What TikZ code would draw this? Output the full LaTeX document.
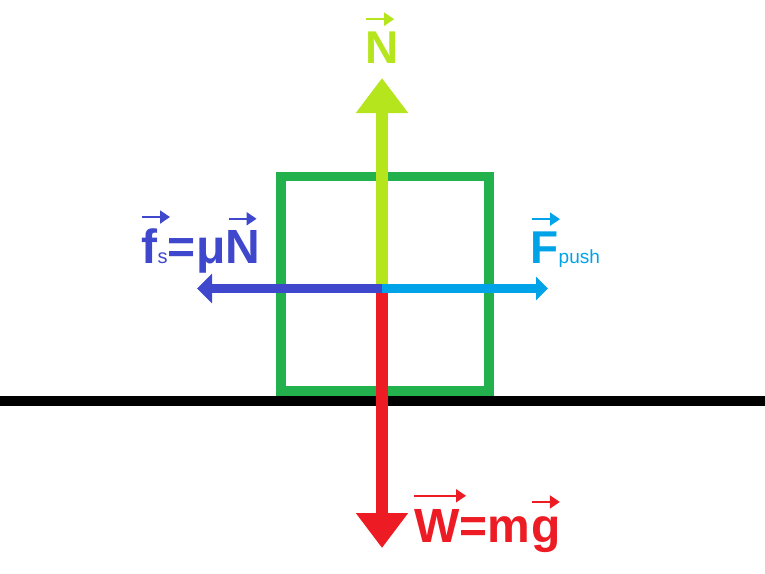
\documentclass[tikz,border=0pt]{standalone}
\usepackage{fontspec}
\setmainfont{Liberation Sans}
\usetikzlibrary{arrows.meta, positioning}

\definecolor{boxgreen}{RGB}{34,177,76}
\definecolor{normalclr}{RGB}{181,230,29}
\definecolor{fricclr}{RGB}{63,72,204}
\definecolor{pushclr}{RGB}{0,162,232}
\definecolor{weightclr}{RGB}{237,28,36}

\tikzset{
  lbl/.style={inner sep=0pt, font=\fontsize{#1}{#1}\selectfont\bfseries},
  lbl/.default=46,
  sublbl/.style={inner sep=0pt, font=\fontsize{#1}{#1}\selectfont},
  vecarrow/.style={line width=2pt, -{Triangle[length=10pt,width=13pt]}},
  bigforce/.style={line width=11.5pt, -{Triangle[length=35pt,width=50pt]}},
}

\begin{document}
\begin{tikzpicture}[x=1pt, y=-1pt]
  \useasboundingbox (0,0) rectangle (765,573);
  \draw [line width=10pt] (0,401) -- (765,401);
  \draw [boxgreen, line width=9.5pt] (281,176.5) rectangle (489,391);

  \coordinate (c) at (382,288.5);
  \coordinate (ntip) at (382,78);
  \coordinate (wtip) at (382,548);
  \coordinate (ftip) at (197,288.5);
  \coordinate (ptip) at (548,288.5);

  \draw [normalclr, bigforce] (c) -- (ntip);
  \draw [weightclr, bigforce] (c) -- (wtip);
  \draw [fricclr, line width=9.5pt, -{Triangle[length=15pt,width=29pt]}] (c) -- (ftip);
  \draw [pushclr, line width=9.5pt, -{Triangle[length=12pt,width=23pt]}] (c) -- (ptip);

  % normal force
  \node [lbl, text=normalclr, anchor=base] (nn) at (382,63) {N};
  \draw [normalclr, vecarrow] ([xshift=1pt,yshift=12pt]nn.north west) -- +(28,0);

  % friction
  \node [lbl=48, text=fricclr, anchor=base west] (fsf) at (141,263) {f};
  \node [sublbl=20, text=fricclr, base right=0pt of fsf] (fss) {s};
  \node [lbl=48, text=fricclr, base right=0pt of fss] (fseq) {=μ};
  \node [lbl=48, text=fricclr, base right=0pt of fseq] (fsn) {N};
  \draw [fricclr, vecarrow] ([xshift=1pt,yshift=11pt]fsf.north west) -- +(28,0);
  \draw [fricclr, vecarrow] ([xshift=3pt,yshift=11pt]fsn.north west) -- +(28,0);

  % push
  \node [lbl, text=pushclr, anchor=base west] (fpf) at (530,263) {F};
  \node [sublbl=19, text=pushclr, base right=0pt of fpf] (fpsub) {push};
  \draw [pushclr, vecarrow] ([xshift=2pt,yshift=12pt]fpf.north west) -- +(28,0);

  % weight
  \node [lbl=48, text=weightclr, anchor=base west] (ww) at (414,542) {W};
  \node [lbl=48, text=weightclr, base right=0pt of ww] (weq) {=m};
  \node [lbl=48, text=weightclr, base right=0pt of weq] (wg) {g};
  \draw [weightclr, vecarrow] ([yshift=13pt]ww.north west) -- +(52,0);
  \draw [weightclr, vecarrow] ([xshift=1pt,yshift=14pt]wg.north west) -- +(28,0);
\end{tikzpicture}
\end{document}
